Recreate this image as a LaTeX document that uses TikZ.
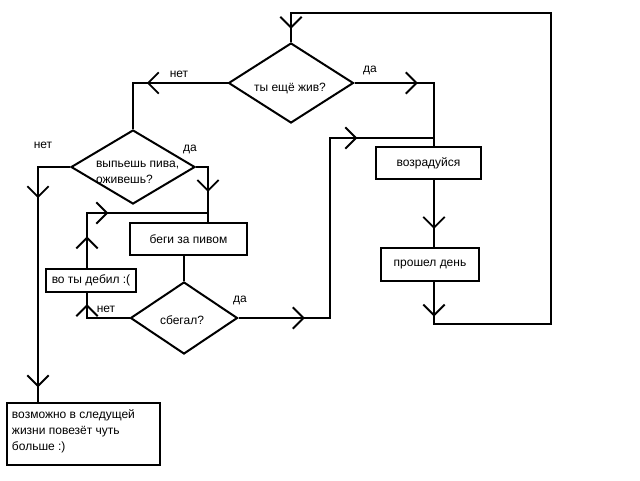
\documentclass[tikz,border=0pt]{standalone}
\usepackage{fontspec}
\setmainfont{Liberation Sans}
\usetikzlibrary{shapes.geometric}
\tikzset{
  vt/.pic={\draw[line width=1.4pt] (-8pt,8pt) -- (0,0) -- (-8pt,-8pt);},
  arrmark/.style={sloped, allow upside down},
  dia/.style={draw, diamond, inner sep=0pt},
  box/.style={draw, rectangle, inner sep=0pt},
  lab/.style={inner sep=0pt},
}
\begin{document}
\begin{tikzpicture}[x=0.75pt,y=-0.75pt,line width=1.5pt,
  font=\fontsize{9}{12}\selectfont]
\useasboundingbox (0,0) rectangle (640,480);
% decisions
\node[dia, minimum width=93.75pt, minimum height=60pt] (d1) at (291,83) {};
\node[lab] (d1t) at (290,88) {ты ещё жив?};
\node[dia, minimum width=93pt, minimum height=55.5pt] (d2) at (133,167) {};
\node[lab, align=left, anchor=west] (d2t) at (95,172) {выпьешь пива,\\оживешь?};
\node[dia, minimum width=80.25pt, minimum height=54pt] (d3) at (184,318) {};
\node[lab] (d3t) at (182,320) {сбегал?};
% boxes
\node[box, minimum width=87.75pt, minimum height=24pt] (beg) at (188.5,239) {беги за пивом};
\node[box, minimum width=67.5pt, minimum height=17.25pt] (vtd) at (91,280.5) {во ты дебил :(};
\node[box, minimum width=78.75pt, minimum height=24pt] (voz) at (428.5,163) {возрадуйся};
\node[box, minimum width=73.5pt, minimum height=24.75pt] (den) at (430,264.5) {\raisebox{-1.5pt}{прошел день}};
\node[box, minimum width=114.75pt, minimum height=46.5pt] (fin) at (83.5,434) {};
\node[lab, anchor=north west, align=left] (fint) at (11,408.5) {возможно в следущей\\жизни повезёт чуть\\больше :)};
% labels
\node[lab] (l1) at (179,74) {нет};
\node[lab] (l2) at (370,70) {да};
\node[lab] (l3) at (43,145) {нет};
\node[lab] (l4) at (190,149) {да};
\node[lab] (l5) at (106,309) {нет};
\node[lab] (l6) at (240,300) {да};
% coordinates
\coordinate (c2) at (38,167);
\coordinate (c3) at (208,167);
\coordinate (c5) at (87,318);
\coordinate (j1) at (208,213);
\coordinate (j2) at (434,138);
\coordinate (c7) at (330,318);
\coordinate (c8) at (434,83);
\coordinate (c10a) at (434,324);
\coordinate (c10b) at (551,324);
\coordinate (c10c) at (551,13);
% connectors
\draw (d1.west) -- pic[arrmark,pos=.84]{vt} (d1.west -| d2.north) -- (d2.north);
\draw (d2.west) -- (c2) -- pic[arrmark,pos=.127]{vt} pic[arrmark,pos=.932]{vt} (c2 |- fin.north);
\draw (d2.east) -- (c3) -- pic[arrmark,pos=.43]{vt} (c3 |- beg.north);
\draw (beg.south -| d3.north) -- (d3.north);
\draw (d3.west) -- (c5) -- pic[arrmark,pos=.5]{vt} (c5 |- vtd.south);
\draw (c5 |- vtd.north) -- pic[arrmark,pos=.55]{vt} (c5 |- j1) -- pic[arrmark,pos=.165]{vt} (j1);
\draw (d3.east) -- pic[arrmark,pos=.71]{vt} (c7) -- (c7 |- j2) -- pic[arrmark,pos=.25]{vt} (j2);
\draw (d1.east) -- pic[arrmark,pos=.78]{vt} (c8) -- (c8 |- voz.north);
\draw (c8 |- voz.south) -- pic[arrmark,pos=.71]{vt} (c8 |- den.north);
\draw (c8 |- den.south) -- pic[arrmark,pos=.79]{vt} (c10a) -- (c10b) -- (c10c) -- (c10c -| d1.north) -- pic[arrmark,pos=.5]{vt} (d1.north);
\end{tikzpicture}
\end{document}
